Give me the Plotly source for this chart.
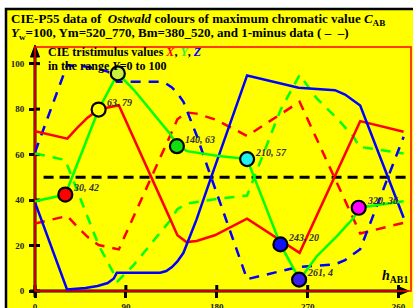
import plotly.graph_objects as go

# ---------------- data ----------------
hX = [0, 32, 42, 52, 63, 83, 134, 141, 150, 160, 178, 193, 210, 262, 322, 365]
X = [70.3, 67, 71.8, 76.2, 79.8, 81.7, 31.5, 24.5, 21.5, 22, 24.5, 27.8, 31.8, 16.8, 74.7, 70]
Xm = [29.7, 33, 28.2, 23.8, 20.2, 18.3, 68.5, 75.5, 78.5, 78, 75.5, 72.2, 68.2, 83.2, 25.3, 30]

hY = [0, 15, 30, 63, 82, 97.6, 110, 124, 134, 141, 150.5, 180, 210, 243, 262, 279, 299, 315.5, 321, 365]
Y = [39.5, 41, 42.4, 79.8, 95.7, 88.6, 82, 74.7, 68.9, 64, 61.5, 59.5, 58, 20.5, 5, 15.3, 24.1, 32.2, 36.6, 39.5]
Ym = [60.5, 59, 57.6, 20.2, 4.3, 11.4, 18, 25.3, 31.1, 36, 38.5, 40.5, 42, 79.5, 95, 84.7, 75.9, 67.8, 63.4, 60.5]

hZ = [0, 31.7, 50, 62, 72, 78, 81, 124, 130, 135.6, 141, 147, 160, 173.6, 210, 233, 261, 297, 307, 322, 350, 365]
Z = [39, 0.7, 1.3, 2.2, 3.5, 5.5, 8, 8, 8.8, 10.5, 13, 16.8, 31.5, 49, 94.8, 92.3, 89.4, 88.3, 86.4, 81.6, 49, 32.2]
Zm = [61, 99.3, 98.7, 97.8, 96.5, 94.5, 92, 92, 91.2, 89.5, 87, 83.2, 68.5, 51, 5.2, 7.7, 10.6, 11.7, 13.6, 18.4, 51, 67.8]

hMid = [8.5, 372]
vMid = [50, 50]

hC = [30, 63, 82, 140.5, 210, 243, 261.5, 320.5]
vC = [42.4, 79.8, 95.7, 63.7, 58, 20.5, 5, 36.6]
cC = ["#ff0000", "#ffff00", "#c8f03c", "#10e010", "#20f0f0", "#1010ff", "#3a20f0", "#ff00ff"]
labC = ["30, 42", "63, 79", "", "140, 63", "210, 57", "243, 20", "261, 4", "320, 36"]

xticks = [0, 90, 180, 270, 360]
yticks = [0, 20, 40, 60, 80, 100]

XMAX, YMAX = 372.3, 107.3
L, T, W, H = 35, 47, 376, 244
FONT = "Liberation Serif"


def px(xp):
    return (xp - L) / W


def py(yp):
    return (T + H - yp) / H


fig = go.Figure()

# dashed reference line
fig.add_trace(go.Scatter(x=hMid, y=vMid, mode="lines",
                         line=dict(color="black", width=3, dash="10px,6px"), hoverinfo="skip"))

# 1-minus dashed curves
for hh, vv, col in [(hX, Xm, "#ff0000"), (hY, Ym, "#00ff00"), (hZ, Zm, "#0000ff")]:
    fig.add_trace(go.Scatter(x=hh, y=vv, mode="lines",
                             line=dict(color=col, width=2.5, dash="10px,8px"), hoverinfo="skip"))

# solid curves
for hh, vv, col in [(hX, X, "#ff0000"), (hZ, Z, "#0000ff"), (hY, Y, "#00ff00")]:
    fig.add_trace(go.Scatter(x=hh, y=vv, mode="lines",
                             line=dict(color=col, width=2.5), hoverinfo="skip"))

# circles
fig.add_trace(go.Scatter(x=hC, y=vC, mode="markers",
                         marker=dict(size=14, color=cC, line=dict(color="black", width=2.2)),
                         hoverinfo="skip"))

shapes = []
# panel
shapes.append(dict(type="rect", xref="paper", yref="paper", x0=px(6), x1=px(430),
                   y0=py(330), y1=py(9), fillcolor="#ffff00",
                   line=dict(color="black", width=2.5), layer="below"))
# black axes
shapes.append(dict(type="line", xref="paper", yref="paper", x0=px(30), x1=px(402),
                   y0=py(291), y1=py(291), line=dict(color="black", width=3), layer="below"))
shapes.append(dict(type="path", xref="paper", yref="paper",
                   path=f"M {px(409)} {py(291)} L {px(398)} {py(286.5)} L {px(398)} {py(295.5)} Z",
                   fillcolor="black", line=dict(color="black", width=1), layer="below"))
shapes.append(dict(type="line", xref="paper", yref="paper", x0=px(35), x1=px(35),
                   y0=py(297), y1=py(56), line=dict(color="black", width=3), layer="below"))
shapes.append(dict(type="path", xref="paper", yref="paper",
                   path=f"M {px(35)} {py(45)} L {px(30.5)} {py(57)} L {px(39.5)} {py(57)} Z",
                   fillcolor="black", line=dict(color="black", width=1), layer="below"))
# inner tick halves
for t in xticks:
    shapes.append(dict(type="line", xref="paper", yref="paper", x0=t / XMAX, x1=t / XMAX,
                       y0=0, y1=6 / H, line=dict(color="black", width=3), layer="below"))
for t in yticks:
    shapes.append(dict(type="line", xref="paper", yref="paper", x0=0, x1=5 / W,
                       y0=t / YMAX, y1=t / YMAX, line=dict(color="black", width=3), layer="below"))
# red frame
shapes.append(dict(type="rect", xref="paper", yref="paper", x0=0, x1=1, y0=0, y1=1,
                   line=dict(color="#ff0000", width=1.5), layer="below"))

ann = []
ann.append(dict(xref="paper", yref="paper", x=px(9), y=py(19), xanchor="left", yanchor="middle",
                showarrow=False,
                text="<b>CIE-P55 data of  <i>Ostwald</i> colours of maximum chromatic value <i>C</i><sub>AB</sub></b>",
                font=dict(family=FONT, size=13, color="black")))
ann.append(dict(xref="paper", yref="paper", x=px(9), y=py(33), xanchor="left", yanchor="middle",
                showarrow=False,
                text="<b><i>Y</i><sub>w</sub>=100, Ym=520_770, Bm=380_520, and 1-minus data ( \u2013  \u2013)</b>",
                font=dict(family=FONT, size=13, color="black")))
ann.append(dict(xref="paper", yref="paper", x=px(46), y=py(52), xanchor="left", yanchor="middle",
                showarrow=False,
                text="<b>CIE tristimulus values <i><span style='color:#ff0000'>X</span></i>, "
                     "<i><span style='color:#33ee33'>Y</span></i>, <i><span style='color:#0000ff'>Z</span></i></b>",
                font=dict(family=FONT, size=12, color="black")))
ann.append(dict(xref="paper", yref="paper", x=px(46), y=py(66), xanchor="left", yanchor="middle",
                showarrow=False, text="<b>in the range <i>Y</i>=0 to 100</b>",
                font=dict(family=FONT, size=12, color="black")))
ann.append(dict(xref="paper", yref="paper", x=px(410), y=py(276), xanchor="right", yanchor="middle",
                showarrow=False, text="<b><i>h</i><sub>AB1</sub></b>",
                font=dict(family=FONT, size=14, color="black")))
for hh, vv, lab in zip(hC, vC, labC):
    if lab:
        ann.append(dict(x=hh, y=vv, xref="x", yref="y", xanchor="left", yanchor="middle",
                        xshift=6, yshift=7, showarrow=False, text=f"<b><i>{lab}</i></b>",
                        font=dict(family=FONT, size=10, color="#333333")))

fig.update_layout(
    width=413, height=308,
    margin=dict(l=L, r=413 - L - W, t=T, b=308 - T - H, pad=0, autoexpand=False),
    paper_bgcolor="white", plot_bgcolor="rgba(0,0,0,0)",
    showlegend=False,
    shapes=shapes, annotations=ann,
    xaxis=dict(range=[0, XMAX], tickvals=xticks, ticktext=[str(t) for t in xticks],
               ticks="outside", ticklen=6, tickwidth=3, tickcolor="black", automargin=False,
               showgrid=False, zeroline=False, showline=False, fixedrange=True,
               ticklabelstandoff=1,
               tickfont=dict(family=FONT, size=9, color="#222222", weight="bold")),
    yaxis=dict(range=[0, YMAX], tickvals=yticks, ticktext=[str(t) for t in yticks],
               ticks="outside", ticklen=5, tickwidth=3, tickcolor="black", automargin=False,
               showgrid=False, zeroline=False, showline=False, fixedrange=True,
               ticklabelstandoff=3,
               tickfont=dict(family=FONT, size=9, color="#222222", weight="bold")),
)

fig.write_html("out.html", config={"displayModeBar": False},
               post_script="document.body.style.margin='0';document.body.style.padding='0';"
                           "document.documentElement.style.overflow='hidden';")
